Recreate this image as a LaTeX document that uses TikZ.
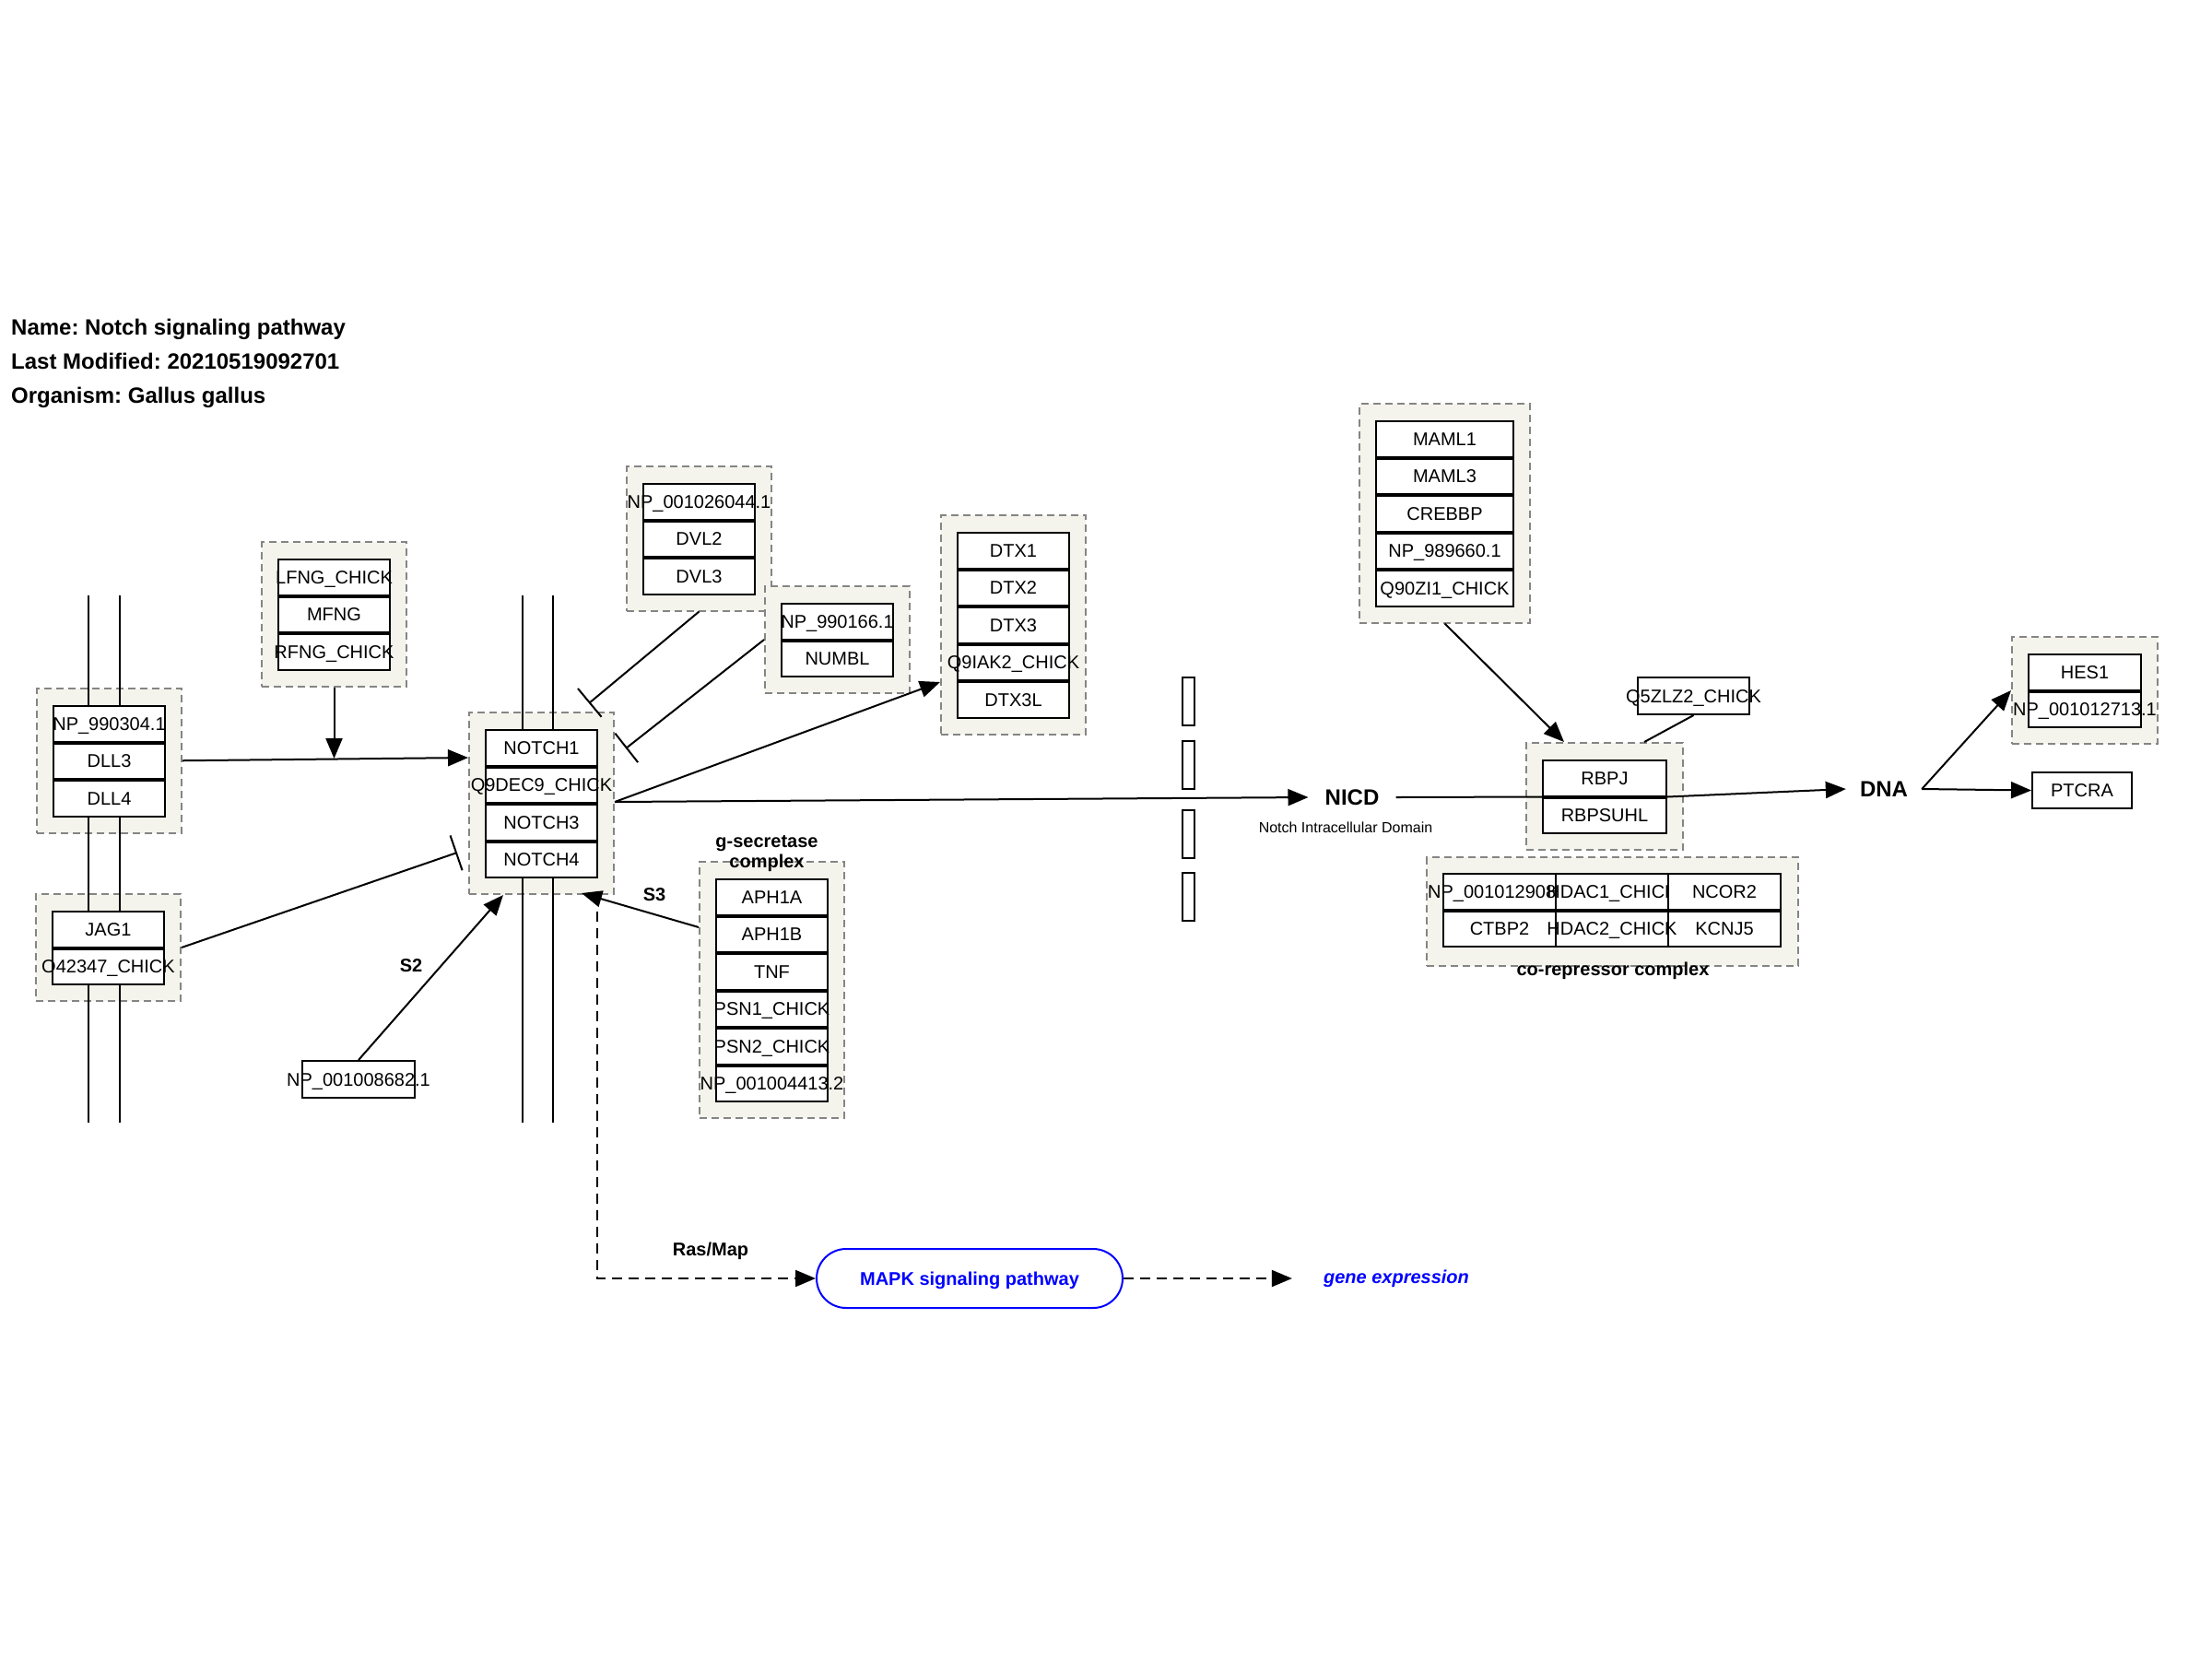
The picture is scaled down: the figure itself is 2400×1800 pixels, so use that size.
\documentclass[tikz,border=0pt]{standalone}
\usepackage{fontspec}
\setmainfont{Liberation Sans}
\usetikzlibrary{arrows.meta,calc}
\frenchspacing

\definecolor{grpfill}{HTML}{F4F4EC}
\definecolor{grpline}{HTML}{858585}
\definecolor{linkblue}{HTML}{0000FF}

\tikzset{
  grp/.style={draw=grpline, fill=grpfill, line width=2pt, dash pattern=on 8pt off 5pt,
    inner sep=0pt, anchor=north west},
  gene/.style={draw=black, fill=white, line width=2pt, inner sep=0pt, minimum height=38.5pt,
    text height=14.3pt, text depth=0pt, font=\fontsize{20}{24}\selectfont, anchor=north west},
  solo/.style={gene, anchor=center},
  pore/.style={draw=black, fill=white, line width=2pt, inner sep=0pt, minimum width=13pt, minimum height=52pt},
  membrane/.style={line width=2pt},
  plain/.style={line width=2pt},
  link/.style={line width=2pt, -{Triangle[length=22pt,width=18pt]}},
  block/.style={line width=2pt, -{Bar[width=40pt,line width=2pt]}},
  dlink/.style={line width=2pt, dash pattern=on 11pt off 7pt, -{Triangle[length=22pt,width=18pt]}},
  capslbl/.style={font=\bfseries\fontsize{20}{24}\selectfont, inner sep=0pt, text height=14.3pt, text depth=0pt},
  lowlbl/.style={font=\bfseries\fontsize{20}{24}\selectfont, inner sep=0pt, text height=10.4pt, text depth=0pt},
  titlelbl/.style={font=\bfseries\fontsize{24}{28}\selectfont, inner sep=0pt, anchor=base west},
}

% dashed complex box around a column of gene cells
% #1 name, #2 cell left, #3 cell top, #4 cell width, #5 rows
\newcommand\pgroup[5]{%
  \node[grp, minimum width=#4+36pt, minimum height=40.5*#5+35pt] (#1) at (#2-18,#3-18) {};
}
% column of gene cells: #1 name, #2 left, #3 top, #4 width, #5 labels
\newcommand\pcells[5]{%
  \foreach \lab [count=\i] in {#5} {
    \node[gene, minimum width=#4pt] (#1-\i) at (#2, {#3+40.5*(\i-1)+1}) {\makebox[0pt]{\lab}};
  }
}

\begin{document}
\begin{tikzpicture}[x=1pt,y=-1pt]
\useasboundingbox (0,0) rectangle (2400,1800);
\fill[white] (0,0) rectangle (2400,1800);

% header
\node[titlelbl] (title1) at (12,363) {Name: Notch signaling pathway};
\node[titlelbl] (title2) at (12,400) {Last Modified: 20210519092701};
\node[titlelbl] (title3) at (12,437) {Organism: Gallus gallus};

% complexes
\pgroup{gLF}{301}{605}{121}{3}
\pgroup{gDLL}{57}{764}{121}{3}
\pgroup{gJAG}{56}{987}{121}{2}
\pgroup{gNotch}{526}{790}{121}{4}
\pgroup{gDVL}{697}{523}{121}{3}
\pgroup{gNUM}{847}{653}{121}{2}
\pgroup{gDTX}{1038}{576}{121}{5}
\pgroup{gGS}{776}{952}{121}{6}
\pgroup{gMAML}{1492}{455}{149}{5}
\pgroup{gRBPJ}{1673}{823}{134}{2}
\pgroup{gHES}{2200}{708}{122}{2}
\node[grp, minimum width=403pt, minimum height=117.5pt] (gCR) at (1547,929) {};

% cell membranes
\draw[membrane] (96,646) -- (96,1218);
\draw[membrane] (130,646) -- (130,1218);
\draw[membrane] (567,646) -- (567,1218);
\draw[membrane] (600,646) -- (600,1218);

% gene products
\pcells{lf}{301}{605}{121}{LFNG\_CHICK,MFNG,RFNG\_CHICK}
\pcells{dll}{57}{764}{121}{NP\_990304.1,DLL3,DLL4}
\pcells{jag}{56}{987}{121}{JAG1,O42347\_CHICK}
\pcells{notch}{526}{790}{121}{NOTCH1,Q9DEC9\_CHICK,NOTCH3,NOTCH4}
\pcells{dvl}{697}{523}{121}{NP\_001026044.1,DVL2,DVL3}
\pcells{num}{847}{653}{121}{NP\_990166.1,NUMBL}
\pcells{dtx}{1038}{576}{121}{DTX1,DTX2,DTX3,Q9IAK2\_CHICK,DTX3L}
\pcells{gs}{776}{952}{121}{APH1A,APH1B,TNF,PSN1\_CHICK,PSN2\_CHICK,NP\_001004413.2}
\pcells{maml}{1492}{455}{149}{MAML1,MAML3,CREBBP,NP\_989660.1,Q90ZI1\_CHICK}
\pcells{rbpj}{1673}{823}{134}{RBPJ,RBPSUHL}
\pcells{hes}{2200}{708}{122}{HES1,NP\_001012713.1}

% co-repressor complex grid
\node[gene, minimum width=122pt] (cr-1) at (1565,947) {\makebox[0pt]{NP\_001012908.1}};
\node[gene, minimum width=122pt] (cr-2) at (1687,947) {\makebox[0pt]{HDAC1\_CHICK}};
\node[gene, minimum width=122pt] (cr-3) at (1809,947) {\makebox[0pt]{NCOR2}};
\node[gene, minimum width=122pt] (cr-4) at (1565,987.5) {\makebox[0pt]{CTBP2}};
\node[gene, minimum width=122pt] (cr-6) at (1809,987.5) {\makebox[0pt]{KCNJ5}};
\node[gene, minimum width=122pt] (cr-5) at (1687,987.5) {\makebox[0pt]{HDAC2\_CHICK}};

% single products
\node[solo, minimum width=122pt, minimum height=40pt] (np682) at (389,1171) {\makebox[0pt]{NP\_001008682.1}};
\node[solo, minimum width=121pt, minimum height=40pt] (q5z) at (1837.5,755) {\makebox[0pt]{Q5ZLZ2\_CHICK}};
\node[solo, minimum width=108pt, minimum height=39pt] (ptcra) at (2259,857.5) {\makebox[0pt]{PTCRA}};

% nuclear envelope pores
\node[pore] (pore1) at (1289.5,761) {};
\node[pore] (pore2) at (1289.5,830) {};
\node[pore] (pore3) at (1289.5,905) {};
\node[pore] (pore4) at (1289.5,973) {};

% labels
\node[font=\bfseries\fontsize{24}{28}\selectfont, inner xsep=18pt, inner ysep=0pt,
  text height=17.2pt, text depth=0pt] (nicd) at (1467,865) {NICD};
\node[font=\fontsize{16}{19}\selectfont, inner sep=0pt] (nicdsub) at (1460,898) {Notch Intracellular Domain};
\node[font=\bfseries\fontsize{24}{28}\selectfont, inner xsep=15pt, inner ysep=0pt,
  text height=17.2pt, text depth=0pt] (dna) at (2044,856) {DNA};
\node[capslbl] (s2) at (446,1047) {S2};
\node[capslbl] (s3) at (710,970) {S3};
\node[capslbl] (rasmap) at (771,1355) {Ras/Map};
\node[lowlbl] (gslbl1) at (832,914) {g-secretase};
\node[lowlbl] (gslbl2) at (832,936) {complex};
\node[lowlbl] (crlbl) at (1750,1053) {co-repressor complex};

\node[draw=linkblue, line width=2pt, rounded corners=32pt, minimum width=332pt, minimum height=64pt,
  text=linkblue, font=\bfseries\fontsize{20}{24}\selectfont, text height=14.3pt, text depth=0pt]
  (mapk) at (1052,1387) {MAPK signaling pathway};
\node[text=linkblue, font=\bfseries\itshape\fontsize{20}{24}\selectfont, inner xsep=34pt, inner ysep=0pt,
  text height=10.4pt, text depth=0pt] (geneexp) at (1515,1387) {gene expression};

% interactions
\draw[link] (gDLL.east) -- (gNotch.west |- 0,822);
\draw[link] (gLF.south) -- (gLF.south |- 0,823);
\draw[block] (gJAG.east) -- ($(gNotch.west |- 0,925)+(-12,0)$);
\draw[block] (gDVL.south) -- ($(gNotch.north east)+(-28,-9)$);
\draw[block] (gNUM.west) -- ($(gNotch.north east)+(12,40)$);
\draw[link] (gNotch.east |- 0,870) -- (gDTX.west |- 0,740);
\draw[link] (gNotch.east |- 0,870) -- (nicd.west);
\draw[plain] (nicd.east) -- (rbpj-1.south west);
\draw[link] (rbpj-1.south east) -- (dna.west);
\draw[link] (dna.east) -- (gHES.west);
\draw[link] (dna.east) -- (ptcra.west);
\draw[link] (gMAML.south) -- ($(gRBPJ.north west)+(42,0)$);
\draw[plain] (q5z.south) -- ($(gRBPJ.north)+(43,0)$);
\draw[link] (np682.north) -- ($(gNotch.south west)+(38,0)$);
\draw[link] (gGS.west |- 0,1006) -- ($(gNotch.south east)+(-36,-2)$);
\draw[dlink] ($(gNotch.south east)+(-19,0)$) |- (mapk.west);
\draw[dlink] (mapk.east) -- (geneexp.west);
\end{tikzpicture}
\end{document}
